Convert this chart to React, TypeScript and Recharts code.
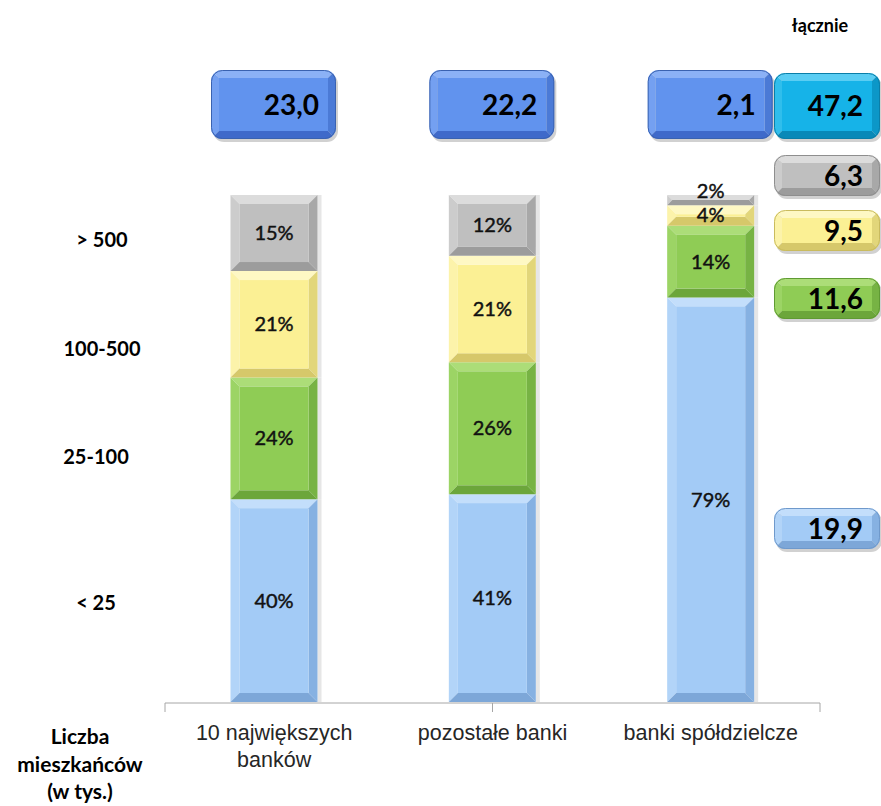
import { Bar, BarChart, LabelList, XAxis, YAxis } from 'recharts'

const categories = ['10 największych\nbanków', 'pozostałe banki', 'banki spółdzielcze']
const below25 = [40, 41, 79]
const from25to100 = [24, 26, 14]
const from100to500 = [21, 21, 4]
const above500 = [15, 12, 2]
const groupTotals = [23.0, 22.2, 2.1]

const sizeClasses = ['> 500', '100-500', '25-100', '< 25']
const sizeTotals = [6.3, 9.5, 11.6, 19.9]
const grandTotal = 47.2

const data = categories.map((name, i) => ({
  name,
  below25: below25[i],
  from25to100: from25to100[i],
  from100to500: from100to500[i],
  above500: above500[i],
  total: groupTotals[i],
}))

interface Palette {
  face: string
  top: string
  left: string
  right: string
  bottom: string
  stroke?: string
}

const blueBar: Palette = { face: '#A3CBF6', top: '#C3DEFB', left: '#B2D4F8', right: '#86B1E2', bottom: '#7DA7D8' }
const greenBar: Palette = { face: '#8FCC55', top: '#ACDD78', left: '#9CD465', right: '#77B344', bottom: '#6CA63B' }
const yellowBar: Palette = { face: '#FBF094', top: '#FEF8C4', left: '#FCF3AA', right: '#E2D67A', bottom: '#D6C86A' }
const greyBar: Palette = { face: '#BFBFBF', top: '#DCDCDC', left: '#CCCCCC', right: '#A8A8A8', bottom: '#9C9C9C' }
const blueBox: Palette = { face: '#6193EE', top: '#8BB1F6', left: '#74A0F1', right: '#4B7AD6', bottom: '#3F6ACA', stroke: '#3A62B0' }
const cyanBox: Palette = { face: '#16B3E8', top: '#5ACDF3', left: '#30BEEC', right: '#0C97C8', bottom: '#0989B8', stroke: '#0A7EA8' }

const fmt = (v: number) => v.toFixed(1).replace('.', ',')
const pts = (arr: number[][]) => arr.map((q) => q.join(',')).join(' ')

let clipSeq = 0

function Bevel({ x, y, w, h, b, p, r = 0 }: { x: number; y: number; w: number; h: number; b: number; p: Palette; r?: number }) {
  if (!(w > 0) || !(h > 0)) return null
  const bb = Math.min(b, w / 2, h / 2)
  const x2 = x + w
  const y2 = y + h
  const ix = x + bb
  const iy = y + bb
  const ix2 = x2 - bb
  const iy2 = y2 - bb
  const faces = (
    <>
      <polygon points={pts([[x, y], [x2, y], [ix2, iy], [ix, iy]])} fill={p.top} />
      <polygon points={pts([[x, y], [ix, iy], [ix, iy2], [x, y2]])} fill={p.left} />
      <polygon points={pts([[x2, y], [x2, y2], [ix2, iy2], [ix2, iy]])} fill={p.right} />
      <polygon points={pts([[x, y2], [ix, iy2], [ix2, iy2], [x2, y2]])} fill={p.bottom} />
      <rect x={ix} y={iy} width={ix2 - ix} height={iy2 - iy} fill={p.face} />
    </>
  )
  if (!r) return <g>{faces}</g>
  const id = `bevel-clip-${clipSeq++}`
  return (
    <g>
      <rect x={x + 2} y={y + 3} width={w} height={h} rx={r} fill="rgba(0,0,0,0.18)" />
      <clipPath id={id}>
        <rect x={x} y={y} width={w} height={h} rx={r} />
      </clipPath>
      <g clipPath={`url(#${id})`}>{faces}</g>
      <rect x={x + 0.5} y={y + 0.5} width={w - 1} height={h - 1} rx={r} fill="none" stroke={p.stroke} strokeWidth={1} />
    </g>
  )
}

function ValueBox({ x, y, w, h, p, label }: { x: number; y: number; w: number; h: number; p: Palette; label: string }) {
  return (
    <g>
      <Bevel x={x} y={y} w={w} h={h} b={8} p={p} r={11} />
      <text
        x={x + w - 17}
        y={y + h / 2 + 10}
        textAnchor="end"
        fontFamily="Lato, sans-serif"
        fontWeight={700}
        fontSize={28}
        fill="#000"
      >
        {label}
      </text>
    </g>
  )
}

const segment = (p: Palette) => (props: any) => {
  const { x, y, width, height } = props
  return (
    <g>
      <rect x={x + width} y={y} width={4} height={height} fill="#E6E6E6" />
      <Bevel x={x} y={y} w={width} h={height} b={9} p={p} />
    </g>
  )
}

function PctLabel(props: any) {
  const vb = props.viewBox ?? props
  const x = vb.x ?? props.x
  const y = vb.y ?? props.y
  const width = vb.width ?? props.width
  const height = vb.height ?? props.height
  // thin segments: lift the label so it sits on the segment's top edge
  const cy = height < 15 ? y - 4 : y + height / 2
  return (
    <text
      x={x + width / 2}
      y={cy}
      dy={7}
      textAnchor="middle"
      fontFamily="Lato, sans-serif"
      fontSize={20}
      fill="#111"
      stroke="#111"
      strokeWidth={0.45}
    >
      {`${props.value}%`}
    </text>
  )
}

function TotalBox(props: any) {
  const vb = props.viewBox ?? props
  const x = vb.x ?? props.x
  const width = vb.width ?? props.width
  const cx = x + width / 2
  return <ValueBox x={cx - 63} y={70} w={125} h={69} p={blueBox} label={fmt(Number(props.value))} />
}

function CategoryTick({ x, y, payload }: any) {
  const lines = String(payload.value).split('\n')
  return (
    <text x={x} y={y + 38} textAnchor="middle" fontFamily="'Liberation Sans', Arial, sans-serif" fontSize={21.5} fill="#262626">
      {lines.map((line, i) => (
        <tspan key={i} x={x} dy={i === 0 ? 0 : 27}>
          {line}
        </tspan>
      ))}
    </text>
  )
}

const sizeLabelPos = [
  { x: 102, y: 247 },
  { x: 102, y: 356 },
  { x: 96, y: 464 },
  { x: 96, y: 610 },
]
const sideBoxY = [155, 210, 278, 508]
const sidePalettes = [greyBar, yellowBar, greenBar, blueBar]
const sideStrokes = ['#8E8E8E', '#C9BB5E', '#5F9A33', '#6F99CB']

export default function App() {
  return (
    <div style={{ position: 'relative', width: 881, height: 806, background: '#fff' }}>
      <style>{'body{margin:0}'}</style>
      <BarChart
        width={881}
        height={806}
        data={data}
        stackOffset="expand"
        barCategoryGap="30%"
        margin={{ top: 195, right: 61, left: 165, bottom: 102 }}
      >
        <XAxis
          xAxisId="grid"
          type="number"
          domain={[0, 3]}
          ticks={[0, 1, 2, 3]}
          height={1}
          tickSize={9}
          tickFormatter={() => ''}
          axisLine={{ stroke: '#A6A6A6' }}
          tickLine={{ stroke: '#A6A6A6' }}
        />
        <XAxis
          xAxisId="cat"
          dataKey="name"
          height={1}
          axisLine={false}
          tickLine={false}
          tickSize={0}
          tickMargin={0}
          interval={0}
          tick={<CategoryTick />}
        />
        <YAxis hide domain={[0, 1]} />
        <Bar xAxisId="cat" dataKey="below25" stackId="s" shape={segment(blueBar)} isAnimationActive={false}>
          <LabelList dataKey="below25" content={<PctLabel />} />
        </Bar>
        <Bar xAxisId="cat" dataKey="from25to100" stackId="s" shape={segment(greenBar)} isAnimationActive={false}>
          <LabelList dataKey="from25to100" content={<PctLabel />} />
        </Bar>
        <Bar xAxisId="cat" dataKey="from100to500" stackId="s" shape={segment(yellowBar)} isAnimationActive={false}>
          <LabelList dataKey="from100to500" content={<PctLabel />} />
        </Bar>
        <Bar xAxisId="cat" dataKey="above500" stackId="s" shape={segment(greyBar)} isAnimationActive={false}>
          <LabelList dataKey="above500" content={<PctLabel />} />
          <LabelList dataKey="total" content={<TotalBox />} />
        </Bar>
      </BarChart>
      <svg width={881} height={806} style={{ position: 'absolute', left: 0, top: 0, pointerEvents: 'none' }}>
        <text x={820} y={32} textAnchor="middle" fontFamily="Lato, sans-serif" fontWeight={700} fontSize={18}>
          łącznie
        </text>
        <ValueBox x={774} y={73} w={106} h={66} p={cyanBox} label={fmt(grandTotal)} />
        {sizeTotals.map((v, i) => (
          <ValueBox
            key={i}
            x={774}
            y={sideBoxY[i]}
            w={106}
            h={41}
            p={{ ...sidePalettes[i], stroke: sideStrokes[i] }}
            label={fmt(v)}
          />
        ))}
        {sizeClasses.map((s, i) => (
          <text
            key={s}
            x={sizeLabelPos[i].x}
            y={sizeLabelPos[i].y}
            textAnchor="middle"
            fontFamily="Lato, sans-serif"
            fontWeight={700}
            fontSize={20}
          >
            {s}
          </text>
        ))}
        <text x={80} y={744} textAnchor="middle" fontFamily="Lato, sans-serif" fontWeight={700} fontSize={21}>
          <tspan x={80} dy={0}>Liczba</tspan>
          <tspan x={80} dy={28}>mieszkańców</tspan>
          <tspan x={80} dy={27}>(w tys.)</tspan>
        </text>
      </svg>
    </div>
  )
}
